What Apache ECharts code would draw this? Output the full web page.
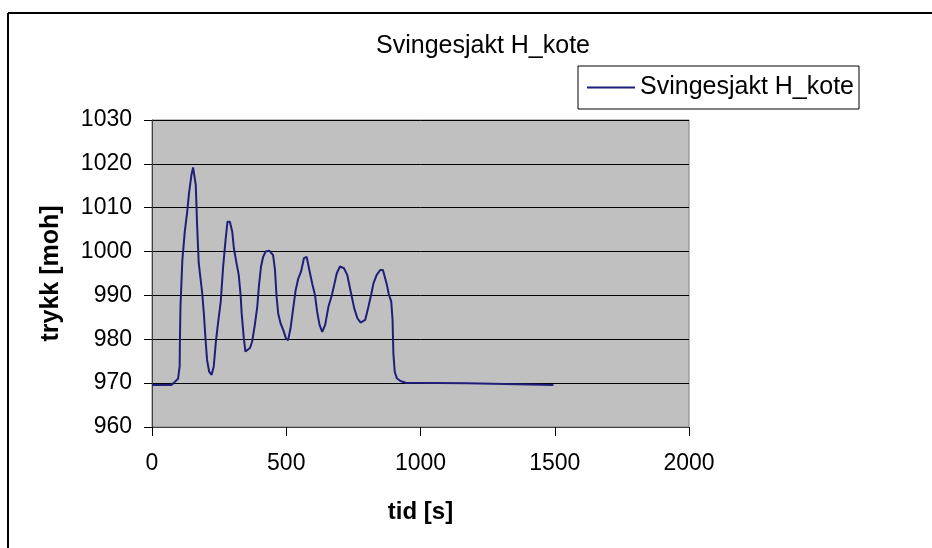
<!DOCTYPE html>
<html>
<head>
<meta charset="utf-8">
<script src="https://cdn.jsdelivr.net/npm/echarts@6/dist/echarts.min.js"></script>
<style>
html,body{margin:0;padding:0;background:#fff;}
#c{width:932px;height:548px;}
</style>
</head>
<body>
<div id="c"></div>
<script>
const chartTitle = 'Svingesjakt H_kote';
const seriesName = 'Svingesjakt H_kote';
const xTitle = 'tid [s]';
const yTitle = 'trykk [moh]';

const tid = [0,72,80,97,103,104,106,113,122,131,138,147,153,159,163,168,174,187,193,199,205,213,222,230,238,246,256,265,274,281,290,299,305,315,323,330,334,342,348,354,365,373,383,392,398,406,414,423,437,451,458,464,470,479,489,499,507,516,526,535,545,555,566,576,586,597,607,615,624,634,645,657,670,680,688,700,715,727,740,753,765,777,794,806,816,825,837,850,860,868,875,881,891,896,899,904,912,925,945,1175,1178,1495];
const trykk = [969.6,969.6,970.0,971.0,973.8,980.0,987.4,998.0,1004.5,1009.0,1013.4,1017.5,1019.2,1019.2,1015.2,1006.0,997.4,990.5,986.0,980.3,975.3,972.6,971.9,973.8,979.5,983.7,988.6,996.6,1002.6,1006.8,1006.8,1004.5,1000.7,997.3,994.7,990.1,985.9,980.2,977.2,976.8,978.0,979.5,983.3,987.4,992.0,996.6,998.8,1000.0,1000.2,999.2,995.8,989.7,985.9,983.6,982.1,980.2,979.8,982.5,987.1,991.2,993.9,995.4,998.5,998.8,995.8,992.6,990.1,986.3,983.3,981.7,983.3,987.4,990.1,992.8,995.0,996.6,996.2,994.7,990.9,987.1,984.8,983.8,984.4,987.4,990.1,992.8,994.7,995.8,995.8,994.0,992.4,990.5,988.6,984.4,976.8,972.6,971.1,970.5,970.1,970.0,969.6,969.6];

const xTicks = {min:0, max:2000, interval:500};
const yTicks = {min:960, max:1030, interval:10};

const data = tid.map((t,i)=>[t, trykk[i]]);
const font = 'Liberation Sans, Arial, sans-serif';
const plain = v => String(v);

const chart = echarts.init(document.getElementById('c'), null, {renderer:'canvas'});
chart.setOption({
  animation:false,
  backgroundColor:'#ffffff',
  title:{
    text: chartTitle, left: 478, top: 29, textAlign:'center',
    textStyle:{fontFamily:font, fontSize:25, fontWeight:'normal', color:'#000'}
  },
  legend:{
    data:[{name:seriesName, icon:'rect'}], left:578, top:66, orient:'vertical',
    padding:[9,5,9,9], itemWidth:48, itemHeight:2, itemGap:5,
    borderColor:'#000', borderWidth:1, backgroundColor:'#fff',
    textStyle:{fontFamily:font, fontSize:25, color:'#000'}
  },
  grid:{
    left:152, right:243, top:120, bottom:121,
    show:true, backgroundColor:'#C0C0C0', borderColor:'#808080', borderWidth:1
  },
  xAxis:{
    type:'value', min:xTicks.min, max:xTicks.max, interval:xTicks.interval,
    name:xTitle, nameLocation:'middle', nameGap:73,
    nameTextStyle:{fontFamily:font, fontSize:24, fontWeight:'bold', color:'#000'},
    axisLine:{show:true, lineStyle:{color:'#404040', width:1}},
    axisTick:{show:true, length:9, lineStyle:{color:'#000'}},
    axisLabel:{fontFamily:font, fontSize:23, color:'#000', margin:25, formatter:plain},
    splitLine:{show:false}
  },
  yAxis:{
    type:'value', min:yTicks.min, max:yTicks.max, interval:yTicks.interval,
    name:yTitle, nameLocation:'middle', nameGap:88, nameRotate:90,
    nameTextStyle:{fontFamily:font, fontSize:25, fontWeight:'bold', color:'#000'},
    axisLine:{show:true, lineStyle:{color:'#404040', width:1}},
    axisTick:{show:true, length:8, lineStyle:{color:'#000'}},
    axisLabel:{fontFamily:font, fontSize:23, color:'#000', margin:20, formatter:plain},
    splitLine:{show:true, lineStyle:{color:'#000', width:1}}
  },
  series:[{
    name:seriesName, type:'line', data:data, symbol:'none', showSymbol:false,
    lineStyle:{color:'#1f1f7a', width:2}, itemStyle:{color:'#1f1f7a'}
  }],
  graphic:[
    {type:'line', shape:{x1:8, y1:13, x2:940, y2:13}, style:{stroke:'#000', lineWidth:2}},
    {type:'line', shape:{x1:8, y1:13, x2:8, y2:560}, style:{stroke:'#000', lineWidth:2}}
  ]
});
</script>
</body>
</html>
